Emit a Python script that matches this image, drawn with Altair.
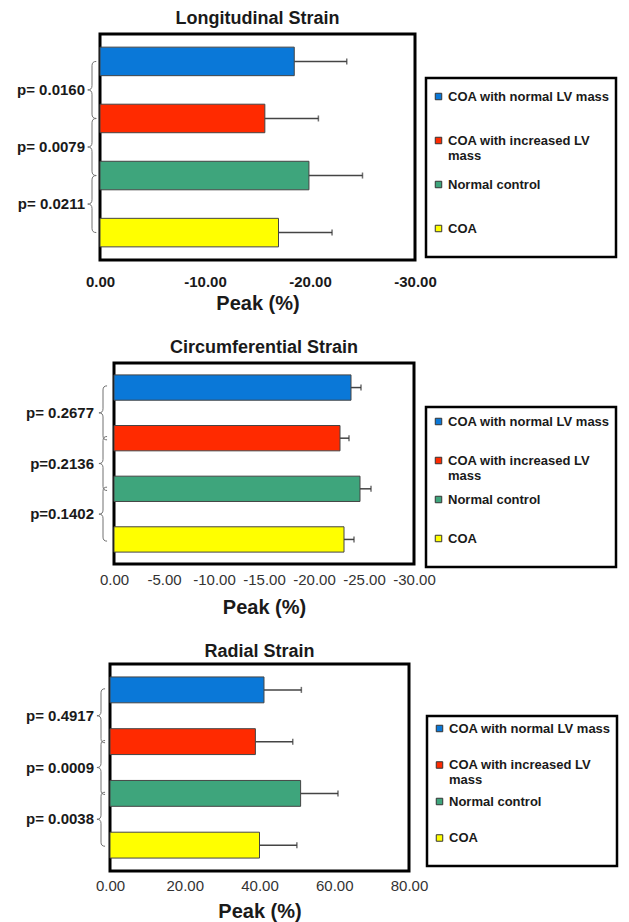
import altair as alt
import pandas as pd

groups = ["COA with normal LV mass", "COA with increased LV mass", "Normal control", "COA"]
colors = ["#0a78d8", "#ff2a00", "#3ea57c", "#ffff00"]

long_mean = [-18.5, -15.7, -19.9, -17.0]
long_sd = [5.0, 5.1, 5.1, 5.1]
long_p = ["p= 0.0160", "p= 0.0079", "p= 0.0211"]
long_ticks = [0, -10, -20, -30]

circ_mean = [-23.7, -22.6, -24.6, -23.0]
circ_sd = [1.0, 0.9, 1.1, 1.0]
circ_p = ["p= 0.2677", "p=0.2136", "p=0.1402"]
circ_ticks = [0, -5, -10, -15, -20, -25, -30]

rad_mean = [41.2, 38.9, 51.0, 40.0]
rad_sd = [10.0, 10.0, 10.0, 10.0]
rad_p = ["p= 0.4917", "p= 0.0009", "p= 0.0038"]
rad_ticks = [0, 20, 40, 60, 80]

FONT = "Liberation Sans"
BRACE = "M 0.15 -1 Q 0 -1 0 -0.85 L 0 -0.15 Q 0 0 -0.15 0 Q 0 0 0 0.15 L 0 0.85 Q 0 1 0.15 1"
MINUS = "\u2212"
LABEL_EXPR = ("datum.label == 'COA with increased LV mass' ? ['COA with increased LV', 'mass'] "
              ": datum.label == 'COA' ? ['COA', ' '] : datum.label")


def panel(title, means, sds, pvals, ticks, domain, width, height, p_out,
          bold_ticks, label_pad, title_pad, title_offset, extent,
          legend_x, legend_y, row_pad, leg_title, text_x, brace_x, brace_h):
    df = pd.DataFrame({
        "group": groups,
        "mean": means,
        "err": [m + s if m > 0 else m - s for m, s in zip(means, sds)],
    })
    pdf = pd.DataFrame({"group": groups[:3], "p": pvals})
    step = height / (4 - 0.5 + 2 * p_out)

    yscale = alt.Scale(domain=groups, paddingInner=0.5, paddingOuter=p_out)
    yenc = alt.Y("group:N", scale=yscale,
                 axis=alt.Axis(labels=False, ticks=False, domain=False, grid=False,
                               title=None, minExtent=extent, maxExtent=extent))
    xaxis = alt.Axis(
        values=ticks, domain=False, ticks=False, grid=False, labelFlush=False,
        labelExpr="replace(format(datum.value, '.2f'), '" + MINUS + "', '-')",
        labelFont=FONT, labelFontSize=15,
        labelFontWeight="bold" if bold_ticks else "normal",
        labelColor="#1a1a1a" if bold_ticks else "#333333",
        labelPadding=label_pad, title="Peak (%)", titleFont=FONT, titleFontSize=20,
        titleFontWeight="bold", titleColor="#1a1a1a", titlePadding=title_pad)
    xscale = alt.Scale(domain=domain, nice=False, zero=False)

    leg_kw = {}
    if leg_title:
        leg_kw = dict(title=" ", titleFontSize=leg_title[0], titlePadding=leg_title[1])
    else:
        leg_kw = dict(title=None)
    legend = alt.Legend(
        orient="none", legendX=legend_x, legendY=legend_y,
        gridAlign="all",
        symbolType="square", symbolSize=42, symbolStrokeColor="#333333",
        symbolStrokeWidth=1, labelFont=FONT, labelFontSize=13,
        labelFontWeight="bold", labelColor="#1a1a1a", labelLimit=300, labelOffset=3,
        labelExpr=LABEL_EXPR,
        strokeColor="black", padding=6, rowPadding=row_pad, **leg_kw)

    bars = alt.Chart(df).mark_bar(stroke="#444444", strokeWidth=1).encode(
        y=yenc,
        x=alt.X("mean:Q", scale=xscale, axis=xaxis),
        color=alt.Color("group:N", scale=alt.Scale(domain=groups, range=colors),
                        legend=legend),
    )
    whisk = alt.Chart(df).mark_rule(color="#444444", strokeWidth=1.5).encode(
        y=alt.Y("group:N", scale=yscale),
        x=alt.X("mean:Q", scale=xscale, axis=xaxis), x2="err:Q")
    caps = alt.Chart(df).mark_tick(orient="vertical", color="#333333", thickness=1.5,
                                   size=6).encode(
        y=alt.Y("group:N", scale=yscale),
        x=alt.X("err:Q", scale=xscale, axis=xaxis))
    braces = alt.Chart(pdf).mark_point(shape=BRACE, size=brace_h ** 2, filled=False,
                                       color="#707070", strokeWidth=1, opacity=1,
                                       yOffset=step / 2).encode(
        y=alt.Y("group:N", scale=yscale), x=alt.value(brace_x))
    ptext = alt.Chart(pdf).mark_text(align="right", baseline="middle", font=FONT,
                                     fontSize=15, fontWeight="bold", color="#1a1a1a",
                                     yOffset=step / 2).encode(
        y=alt.Y("group:N", scale=yscale), x=alt.value(text_x), text="p:N")

    return alt.layer(bars, whisk, caps, braces, ptext).properties(
        width=width, height=height,
        title=alt.TitleParams(title, font=FONT, fontSize=18, fontWeight="bold",
                              color="#1a1a1a", anchor="middle", offset=title_offset),
    )


def spacer():
    return alt.Chart(pd.DataFrame({"s": [0]})).mark_rule(
        strokeWidth=0, opacity=0
    ).encode(
        x=alt.value(0), x2=alt.value(0), y=alt.value(0), y2=alt.value(0)
    ).properties(width=1, height=1,
                 view=alt.ViewBackground(stroke="transparent", strokeWidth=0))


p1 = panel("Longitudinal Strain", long_mean, long_sd, long_p, long_ticks, [0, -30],
           315, 226, 0.23, True, 14, 4, 6, 84.5, 326, 44, 15, (4, 2), -15, -8, 57)
p2 = panel("Circumferential Strain", circ_mean, circ_sd, circ_p, circ_ticks, [0, -30],
           300, 201, 0.235, False, 8, 10, 6, 98, 312, 44, 10, (1, 1), -20, -11, 54)
p3 = panel("Radial Strain", rad_mean, rad_sd, rad_p, rad_ticks, [0, 80],
           299, 207, 0.25, False, 7, 8, 3, 94.5, 317, 52, 7.5, None, -16, -9, 54)

rows = [
    alt.hconcat(spacer(), p, spacing=0)
    .resolve_scale(color="independent")
    .resolve_legend(color="independent")
    for p in (p1, p2, p3)
]

chart = alt.vconcat(*rows, spacing=22).properties(
    padding={"left": 5, "top": 0, "right": 0, "bottom": 0}
).resolve_scale(color="independent").resolve_legend(color="independent").configure_view(
    stroke="black", strokeWidth=3).configure_legend(strokeWidth=2.5)

chart.save("out.html", embed_options={"renderer": "svg", "actions": False})
